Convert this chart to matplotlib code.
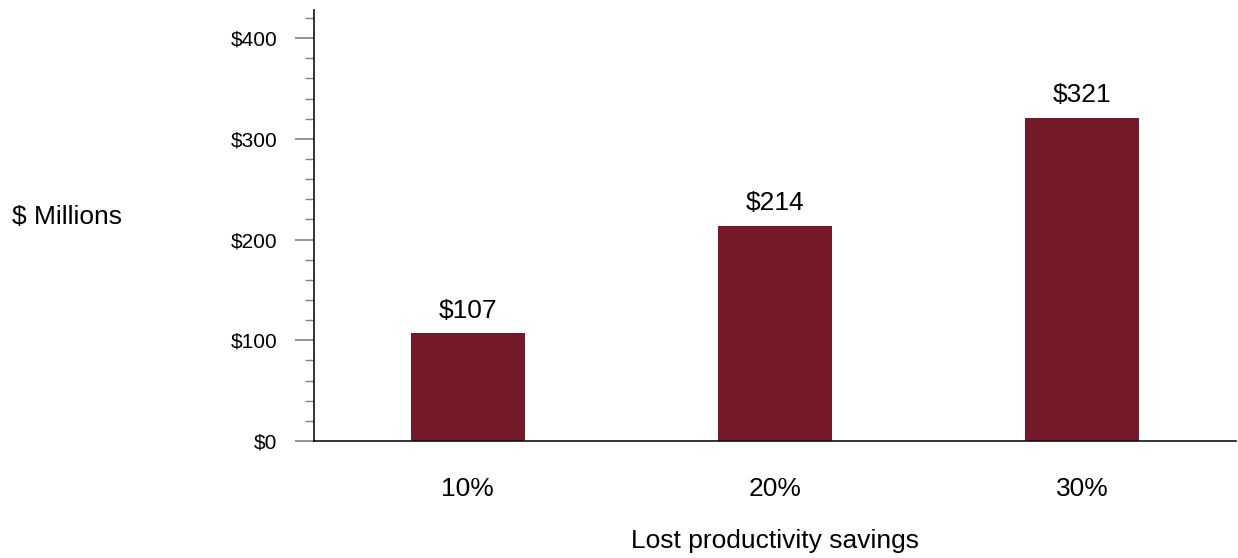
import matplotlib
matplotlib.use("Agg")
import matplotlib.pyplot as plt
from matplotlib.ticker import MultipleLocator, FuncFormatter

plt.rcParams['font.family'] = ['Liberation Sans', 'DejaVu Sans']

# Savings from lost productivity, $ millions
categories = ["10%", "20%", "30%"]
savings = [107, 214, 321]

bar_color = "#731927"

fig = plt.figure(figsize=(12.38, 5.58), dpi=100)
ax = fig.add_axes([314 / 1238, 1 - 441 / 558, (1236 - 314) / 1238, (441 - 10) / 558])

x = range(len(categories))
ax.bar(x, savings, width=0.37, color=bar_color)

for xi, v in zip(x, savings):
    ax.annotate(f"${v}", (xi, v), xytext=(0, 7.5), textcoords="offset points",
                ha="center", va="bottom", fontsize=19)

ax.set_xlim(-0.5, 2.5)
ax.set_ylim(0, 428)
ax.set_xticks(list(x))
ax.set_xticklabels(categories, fontsize=19)
ax.tick_params(axis="x", length=0, pad=26)

ax.yaxis.set_major_locator(MultipleLocator(100))
ax.yaxis.set_minor_locator(MultipleLocator(20))
ax.yaxis.set_major_formatter(FuncFormatter(lambda v, p: f"${v:.0f}"))
ax.tick_params(axis="y", which="major", length=13.5, width=1.2, color="#808080",
               pad=13, labelsize=15)
ax.tick_params(axis="y", which="minor", length=6.5, width=1.0, color="#808080")

for side in ("top", "right"):
    ax.spines[side].set_visible(False)
for side in ("left", "bottom"):
    ax.spines[side].set_linewidth(1.2)
    ax.spines[side].set_color("#111111")

fig.text(12 / 1238, 1 - 217 / 558, "$ Millions", fontsize=19, ha="left", va="center")
fig.text((314 + 1236) / 2 / 1238, 1 - 541 / 558, "Lost productivity savings",
         fontsize=19, ha="center", va="center")

fig.savefig("out.png", dpi=100)
